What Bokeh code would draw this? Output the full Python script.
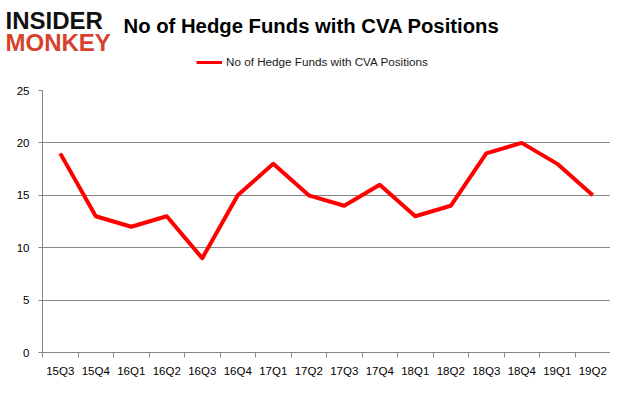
from bokeh.plotting import figure
from bokeh.layouts import column
from bokeh.models import Range1d, FixedTicker, Label, Legend, LegendItem
from bokeh.embed import file_html
from bokeh.resources import INLINE

quarters = ["15Q3", "15Q4", "16Q1", "16Q2", "16Q3", "16Q4", "17Q1", "17Q2",
            "17Q3", "17Q4", "18Q1", "18Q2", "18Q3", "18Q4", "19Q1", "19Q2"]
funds = [19, 13, 12, 13, 9, 15, 18, 15, 14, 16, 13, 14, 19, 20, 18, 15]
y_ticks = [0, 5, 10, 15, 20, 25]
title_text = "No of Hedge Funds with CVA Positions"
series_name = "No of Hedge Funds with CVA Positions"

FONT = "Liberation Sans"
GRAY = "#868686"
RED = "#ff0000"
W = 610
HEADER_H = 86

n = len(quarters)
xs = [i + 0.5 for i in range(n)]

header = figure(width=W, height=HEADER_H, output_backend="svg", toolbar_location=None,
                x_range=Range1d(0, 1), y_range=Range1d(0, 1),
                x_axis_location=None, y_axis_location=None,
                min_border=0, background_fill_color="white", border_fill_color="white")
header.outline_line_color = None
header.grid.visible = False
header.frame_align = False

chart = figure(frame_width=568, frame_height=262, output_backend="svg", toolbar_location=None,
               x_range=Range1d(0, n), y_range=Range1d(y_ticks[0], y_ticks[-1]),
               min_border_left=42, min_border_right=0, min_border_top=4, min_border_bottom=29,
               background_fill_color="white", border_fill_color="white")
chart.outline_line_color = None
chart.frame_align = False

chart.xaxis.ticker = FixedTicker(ticks=xs, minor_ticks=list(range(n + 1)))
chart.xaxis.major_label_overrides = {x: q for x, q in zip(xs, quarters)}
chart.xaxis.major_tick_out = 0
chart.xaxis.major_tick_in = 0
chart.xaxis.minor_tick_out = 5
chart.xaxis.minor_tick_in = 0
chart.xaxis.minor_tick_line_color = GRAY
chart.xaxis.axis_line_color = GRAY
chart.xaxis.major_label_standoff = 7
chart.xaxis.major_label_text_font = FONT
chart.xaxis.major_label_text_font_size = "11.5px"
chart.xaxis.major_label_text_color = "#000000"

chart.yaxis.ticker = FixedTicker(ticks=y_ticks, minor_ticks=[])
chart.yaxis.major_tick_out = 4
chart.yaxis.major_tick_in = 0
chart.yaxis.major_tick_line_color = GRAY
chart.yaxis.minor_tick_line_color = None
chart.yaxis.axis_line_color = GRAY
chart.yaxis.major_label_standoff = 9
chart.yaxis.major_label_text_font = FONT
chart.yaxis.major_label_text_font_size = "11.5px"
chart.yaxis.major_label_text_color = "#000000"

chart.xgrid.visible = False
chart.ygrid.grid_line_color = GRAY

chart.line(xs, funds, line_color=RED, line_width=4, line_join="round")

sample = header.line(x=[-10, -9], y=[-10, -9], line_color=RED, line_width=3)
legend = Legend(items=[LegendItem(label=series_name, renderers=[sample])],
                location=(196, 18), orientation="horizontal",
                border_line_color=None, background_fill_alpha=0,
                padding=0, margin=0, glyph_width=26, glyph_height=12, label_height=12,
                label_standoff=4, label_text_font=FONT,
                label_text_font_size="11.7px", label_text_color="#1a1a1a")
header.add_layout(legend)

header.add_layout(Label(x=311, y=61, x_units="screen", y_units="screen", text=title_text,
                        text_align="center", text_baseline="alphabetic", text_font=FONT,
                        text_font_size="20.3px", text_font_style="bold", text_color="#000000"))
header.add_layout(Label(x=5, y=66, x_units="screen", y_units="screen", text="INSIDER",
                        text_align="left", text_baseline="alphabetic", text_font=FONT,
                        text_font_size="24px", text_font_style="bold", text_color="#111111"))
header.add_layout(Label(x=5, y=44, x_units="screen", y_units="screen", text="MONKEY",
                        text_align="left", text_baseline="alphabetic", text_font=FONT,
                        text_font_size="24px", text_font_style="bold", text_color="#d5432c"))

p = column(header, chart, spacing=0)

open("out.html", "w").write(file_html(p, INLINE))
